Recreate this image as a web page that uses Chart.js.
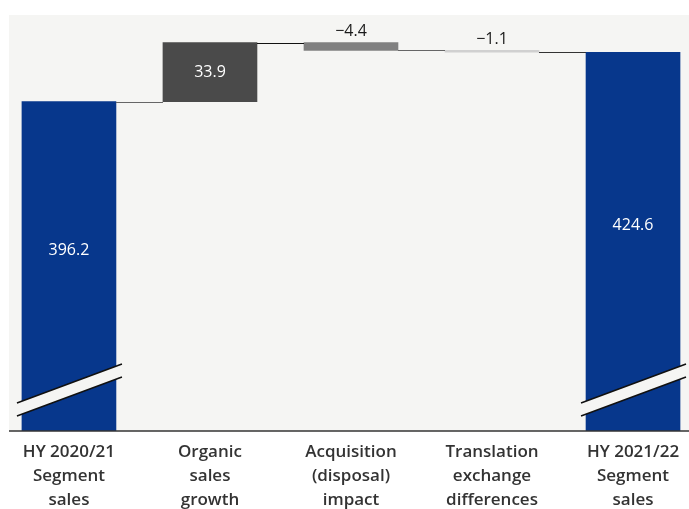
<!DOCTYPE html>
<html>
<head>
<meta charset="utf-8">
<script src="https://cdn.jsdelivr.net/npm/chart.js@4.4.1/dist/chart.umd.min.js"></script>
<style>
  html, body { margin: 0; padding: 0; background: #fff; }
  #wrap { width: 689px; height: 509px; position: relative; }
</style>
</head>
<body>
<div id="wrap"><canvas id="chart"></canvas></div>
<script>
// waterfall data (EUR m)
const categories = [
  ['HY 2020/21', 'Segment', 'sales'],
  ['Organic', 'sales', 'growth'],
  ['Acquisition', '(disposal)', 'impact'],
  ['Translation', 'exchange', 'differences'],
  ['HY 2021/22', 'Segment', 'sales']
]
const startValue = 396.2
const changes = [33.9, -4.4, -1.1]
const endValue = 424.6
const valueLabels = ['396.2', '33.9', '\u22124.4', '\u22121.1', '424.6']

const barColors = ['#07378c', '#4a4a4a', '#808080', '#d0d0d0', '#07378c']
const labelColors = ['#ffffff', '#ffffff', '#1a1a1a', '#1a1a1a', '#ffffff']
const connectorColors = ['#666666', '#111111', '#666666', '#333333']
const BG = '#f5f5f3'
const Y_MIN = 207
const Y_MAX = 446

// build floating bars
const ranges = [[Y_MIN, startValue]]
let level = startValue
changes.forEach(c => {
  ranges.push([level, +(level + c).toFixed(1)])
  level = +(level + c).toFixed(1)
})
ranges.push([Y_MIN, endValue])
const levels = [startValue]
changes.forEach((c, i) => levels.push(ranges[i + 1][1]))

const waterfallDecor = {
  id: 'waterfallDecor',
  beforeDraw(chart) {
    const { ctx, chartArea } = chart
    ctx.save()
    ctx.fillStyle = BG
    ctx.fillRect(chartArea.left + 9, chartArea.top, chartArea.right - chartArea.left - 9, chartArea.bottom - chartArea.top)
    ctx.restore()
  },
  afterDatasetsDraw(chart) {
    const { ctx, chartArea, scales } = chart
    const bars = chart.getDatasetMeta(0).data
    ctx.save()

    // connectors
    for (let i = 0; i < bars.length - 1; i++) {
      const y = Math.round(scales.y.getPixelForValue(levels[i])) + 0.5
      ctx.beginPath()
      ctx.strokeStyle = connectorColors[i]
      ctx.lineWidth = 1.2
      ctx.moveTo(bars[i].x + bars[i].width / 2, y)
      ctx.lineTo(bars[i + 1].x - bars[i + 1].width / 2, y)
      ctx.stroke()
    }

    // axis break marks on the total bars
    ;[0, bars.length - 1].forEach(i => {
      const b = bars[i]
      const l = b.x - b.width / 2 - 5
      const r = b.x + b.width / 2 + 6
      const bot = chartArea.bottom
      const yl = bot - 28, yr = bot - 67, gap = 13
      ctx.beginPath()
      ctx.fillStyle = BG
      ctx.moveTo(l, yl)
      ctx.lineTo(r, yr)
      ctx.lineTo(r, yr + gap)
      ctx.lineTo(l, yl + gap)
      ctx.closePath()
      ctx.fill()
      ctx.strokeStyle = '#111'
      ctx.lineWidth = 1.5
      ctx.beginPath()
      ctx.moveTo(l, yl); ctx.lineTo(r, yr)
      ctx.moveTo(l, yl + gap); ctx.lineTo(r, yr + gap)
      ctx.stroke()
    })

    // value labels
    ctx.font = '16px "Open Sans"'
    ctx.textAlign = 'center'
    ctx.textBaseline = 'middle'
    bars.forEach((b, i) => {
      const top = Math.min(b.y, b.base)
      const bottom = Math.max(b.y, b.base)
      let y
      if (i === 0 || i === bars.length - 1) {
        y = (top + bottom) / 2 - 16
        ctx.fillStyle = labelColors[i]
      } else if (bottom - top > 26) {
        y = (top + bottom) / 2
        ctx.fillStyle = labelColors[i]
      } else {
        y = top - 11
        ctx.fillStyle = '#1a1a1a'
      }
      ctx.fillText(valueLabels[i], b.x, y)
    })

    // x axis line
    ctx.strokeStyle = '#333'
    ctx.lineWidth = 1.5
    ctx.beginPath()
    ctx.moveTo(chartArea.left + 9, chartArea.bottom)
    ctx.lineTo(chartArea.right, chartArea.bottom)
    ctx.stroke()
    ctx.restore()
  }
}

new Chart(document.getElementById('chart'), {
  type: 'bar',
  data: {
    datasets: [{
      data: ranges.map((r, i) => ({ x: i, y: r })),
      backgroundColor: barColors,
      borderWidth: 0,
      barThickness: 94
    }]
  },
  options: {
    responsive: true,
    maintainAspectRatio: false,
    animation: false,
    layout: { padding: { top: 15, left: 0, right: 0, bottom: 0 } },
    plugins: { legend: { display: false }, tooltip: { enabled: false } },
    scales: {
      x: {
        type: 'linear',
        offset: false,
        min: -0.489,
        max: 4.397,
        afterBuildTicks: scale => {
          scale.ticks = categories.map((c, i) => ({ value: i }))
        },
        afterFit: scale => { scale.height = 78 },
        grid: { display: false, drawTicks: false },
        border: { display: false },
        ticks: {
          autoSkip: false,
          maxRotation: 0,
          padding: 9,
          color: '#333',
          font: { family: '"Open Sans"', size: 17, weight: '600', lineHeight: 1.42 },
          callback: v => categories[v]
        }
      },
      y: {
        display: false,
        min: Y_MIN,
        max: Y_MAX
      }
    }
  },
  plugins: [waterfallDecor]
})
</script>
</body>
</html>
